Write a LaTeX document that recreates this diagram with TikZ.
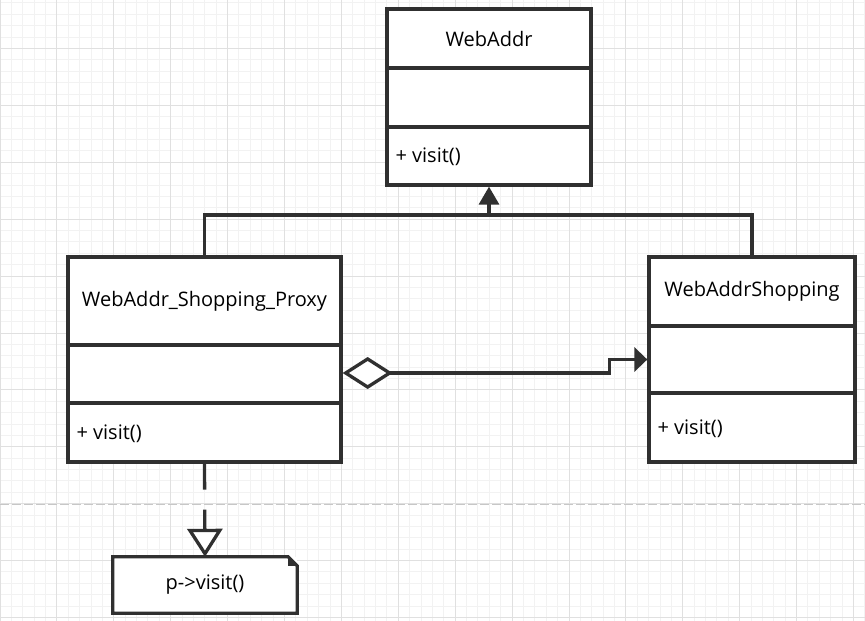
\documentclass[tikz,border=0pt]{standalone}
\usepackage{fontspec}
\setmainfont{Open Sans}
\usetikzlibrary{arrows.meta,calc,positioning,fit}
\definecolor{umlink}{HTML}{303030}
\definecolor{gridminor}{HTML}{F2F2F2}
\definecolor{gridmajor}{HTML}{E0E0E0}

\begin{document}
\begin{tikzpicture}[
  x=1pt, y=-1pt,
  every node/.style={font=\fontsize{20}{23}\selectfont, text=black},
  classbox/.style={draw=umlink, line width=3.3pt, fill=white, inner sep=0pt},
  classline/.style={draw=umlink, line width=3.3pt},
  inherit/.style={classline, -{Triangle[length=18pt,width=20pt]}},
  aggr/.style={classline,
    {Diamond[open,fill=white,length=50pt,width=32pt]}-{Triangle[length=13pt,width=24pt]}},
  realize/.style={classline, dash pattern=on 26pt off 20pt,
    -{Triangle[open,fill=white,length=28pt,width=35pt]}},
  pagebreak/.style={draw=black!22, line width=1pt, dash pattern=on 9pt off 3pt}]

\useasboundingbox (0,0) rectangle (865,621);

% --- Background grid ---
\fill[white] (0,0) rectangle (865,621);
\foreach \i in {0,...,76}
  \draw[gridminor, line width=1pt] ({\i*11.38},0) -- ({\i*11.38},621);
\foreach \j in {-1,...,55}
  \draw[gridminor, line width=1pt] (0,{-8.4+\j*11.38}) -- (865,{-8.4+\j*11.38});
\foreach \i in {0,...,15}
  \draw[gridmajor, line width=1pt] ({\i*56.9},0) -- ({\i*56.9},621);
\foreach \j in {0,...,11}
  \draw[gridmajor, line width=1pt] (0,{-8.4+\j*56.9}) -- (865,{-8.4+\j*56.9});
\draw[pagebreak] (0,504.5) -- (865,504.5);

% --- Classes: name / left / right / top / divider 1 / divider 2 / bottom / title ---
\foreach \nm/\xl/\xr/\yt/\ya/\yb/\yd/\cname in {
    webaddr/387/591/9/68/127/185/{WebAddr},
    proxy/68/341/257/345/403/462/{WebAddr\_Shopping\_Proxy},
    shopping/649/855/257/326/393/462/{WebAddrShopping}}
{
  \node[classbox, fit={(\xl,\yt) (\xr,\yd)}] (\nm) {};
  \draw[classline] (\xl,\ya) -- (\xr,\ya)  (\xl,\yb) -- (\xr,\yb);
  \node (\nm-title) at ({(\xl+\xr)/2},{(\yt+\ya)/2}) {\cname};
  \node[anchor=west] (\nm-op) at ({\xl+5},{(\yb+\yd)/2+1}) {+ visit()};
}

% --- Note ---
\node[fill=white, inner sep=0pt, minimum width=184pt, minimum height=56pt]
  (note) at (205,585) {p->visit()};
\draw[classline]
  (note.north west) -- ([xshift=-9pt]note.north east)
  -- ([yshift=-9pt]note.north east) -- (note.south east)
  -- (note.south west) -- cycle;
\fill[umlink] ([xshift=-9pt]note.north east) -- ([xshift=-9pt,yshift=-9pt]note.north east)
  -- ([yshift=-9pt]note.north east) -- cycle;

% --- Generalisation ---
\coordinate (join) at (489,215);
\draw[classline] (proxy.north) |- (join) -| (shopping.north);
\draw[inherit] (join) -- (webaddr.south);

% --- Aggregation ---
\draw[aggr] ([yshift=-13.5pt]proxy.east) -- ++(267,0) |- (shopping.west);

% --- Realisation ---
\draw[realize] (proxy.south) -- (note.north);

\end{tikzpicture}
\end{document}
